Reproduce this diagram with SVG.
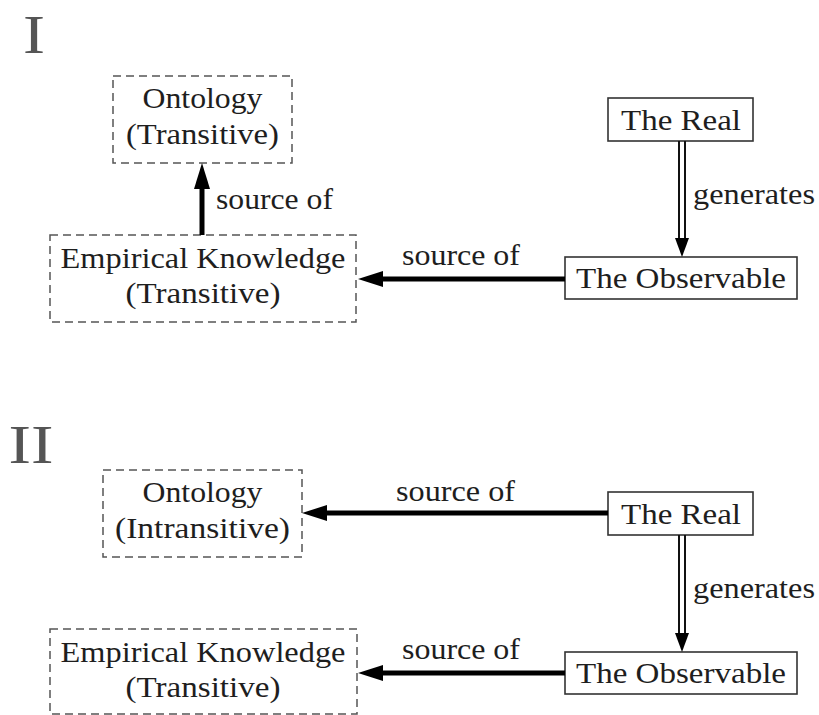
<svg xmlns="http://www.w3.org/2000/svg" width="819" height="715" viewBox="0 0 819 715" font-family="'Liberation Serif', 'DejaVu Serif', serif">
<style>
  text { font-family: "Liberation Serif", "DejaVu Serif", serif; font-size: 30px; fill: #1e1e1e; }
  .c { text-anchor: middle; }
  .num { font-size: 54px; fill: #555; }
  .dash { fill: none; stroke: #555; stroke-width: 1.5; stroke-dasharray: 8 5; }
  .solid { fill: #fff; stroke: #333; stroke-width: 1.6; }
  .shaft { stroke: #000; stroke-width: 5; fill: none; }
  .dbl { stroke: #111; stroke-width: 2; fill: none; }
  .head { fill: #000; }
</style>
<rect width="819" height="715" fill="#fff"/>

<!-- Roman numerals -->
<text class="num" x="34" y="53" text-anchor="middle" textLength="22" lengthAdjust="spacingAndGlyphs">I</text>
<text class="num" x="31" y="463" text-anchor="middle" textLength="45" lengthAdjust="spacingAndGlyphs">II</text>

<!-- Section I nodes -->
<g id="ontology-1">
  <rect class="dash" x="113" y="76" width="179" height="87"/>
  <text class="c" x="202.5" y="108" textLength="120" lengthAdjust="spacingAndGlyphs">Ontology</text>
  <text class="c" x="202.5" y="144" textLength="153" lengthAdjust="spacingAndGlyphs">(Transitive)</text>
</g>
<g id="empirical-1">
  <rect class="dash" x="50" y="235" width="306" height="87"/>
  <text class="c" x="203" y="268" textLength="285" lengthAdjust="spacingAndGlyphs">Empirical Knowledge</text>
  <text class="c" x="203" y="303" textLength="155" lengthAdjust="spacingAndGlyphs">(Transitive)</text>
</g>
<g id="real-1">
  <rect class="solid" x="608" y="98" width="145" height="43"/>
  <text class="c" x="681" y="130" textLength="120" lengthAdjust="spacingAndGlyphs">The Real</text>
</g>
<g id="observable-1">
  <rect class="solid" x="565" y="257" width="232" height="42"/>
  <text class="c" x="681" y="288" textLength="210" lengthAdjust="spacingAndGlyphs">The Observable</text>
</g>

<!-- Section II nodes -->
<g id="ontology-2">
  <rect class="dash" x="103" y="470" width="199" height="87"/>
  <text class="c" x="202.5" y="502" textLength="120" lengthAdjust="spacingAndGlyphs">Ontology</text>
  <text class="c" x="202.5" y="538" textLength="175" lengthAdjust="spacingAndGlyphs">(Intransitive)</text>
</g>
<g id="empirical-2">
  <rect class="dash" x="50" y="629" width="307" height="85"/>
  <text class="c" x="203" y="662" textLength="285" lengthAdjust="spacingAndGlyphs">Empirical Knowledge</text>
  <text class="c" x="203" y="697" textLength="155" lengthAdjust="spacingAndGlyphs">(Transitive)</text>
</g>
<g id="real-2">
  <rect class="solid" x="608" y="492" width="145" height="43"/>
  <text class="c" x="681" y="524" textLength="120" lengthAdjust="spacingAndGlyphs">The Real</text>
</g>
<g id="observable-2">
  <rect class="solid" x="565" y="652" width="232" height="42"/>
  <text class="c" x="681" y="683" textLength="210" lengthAdjust="spacingAndGlyphs">The Observable</text>
</g>

<!-- Connectors -->
<g id="connectors">
  <line class="shaft" x1="202" y1="235" x2="202" y2="185"/>
  <path class="head" d="M202,163 L210,189 L194,189 Z"/>
  <text x="216" y="209" textLength="117" lengthAdjust="spacingAndGlyphs">source of</text>

  <line class="shaft" x1="565" y1="279" x2="380" y2="279"/>
  <path class="head" d="M358,279 L383,271 L383,287 Z"/>
  <text x="402" y="265" textLength="118" lengthAdjust="spacingAndGlyphs">source of</text>

  <line class="dbl" x1="679" y1="141" x2="679" y2="241"/>
  <line class="dbl" x1="685" y1="141" x2="685" y2="241"/>
  <path class="head" d="M682,257 L675,238 L689,238 Z"/>
  <text x="693" y="204" textLength="122" lengthAdjust="spacingAndGlyphs">generates</text>

  <line class="shaft" x1="608" y1="513" x2="324" y2="513"/>
  <path class="head" d="M302,513 L327,505 L327,521 Z"/>
  <text x="396" y="501" textLength="119" lengthAdjust="spacingAndGlyphs">source of</text>

  <line class="dbl" x1="679" y1="535" x2="679" y2="636"/>
  <line class="dbl" x1="685" y1="535" x2="685" y2="636"/>
  <path class="head" d="M682,652 L675,633 L689,633 Z"/>
  <text x="693" y="598" textLength="122" lengthAdjust="spacingAndGlyphs">generates</text>

  <line class="shaft" x1="565" y1="673" x2="380" y2="673"/>
  <path class="head" d="M358,673 L383,665 L383,681 Z"/>
  <text x="402" y="659" textLength="118" lengthAdjust="spacingAndGlyphs">source of</text>
</g>
</svg>
